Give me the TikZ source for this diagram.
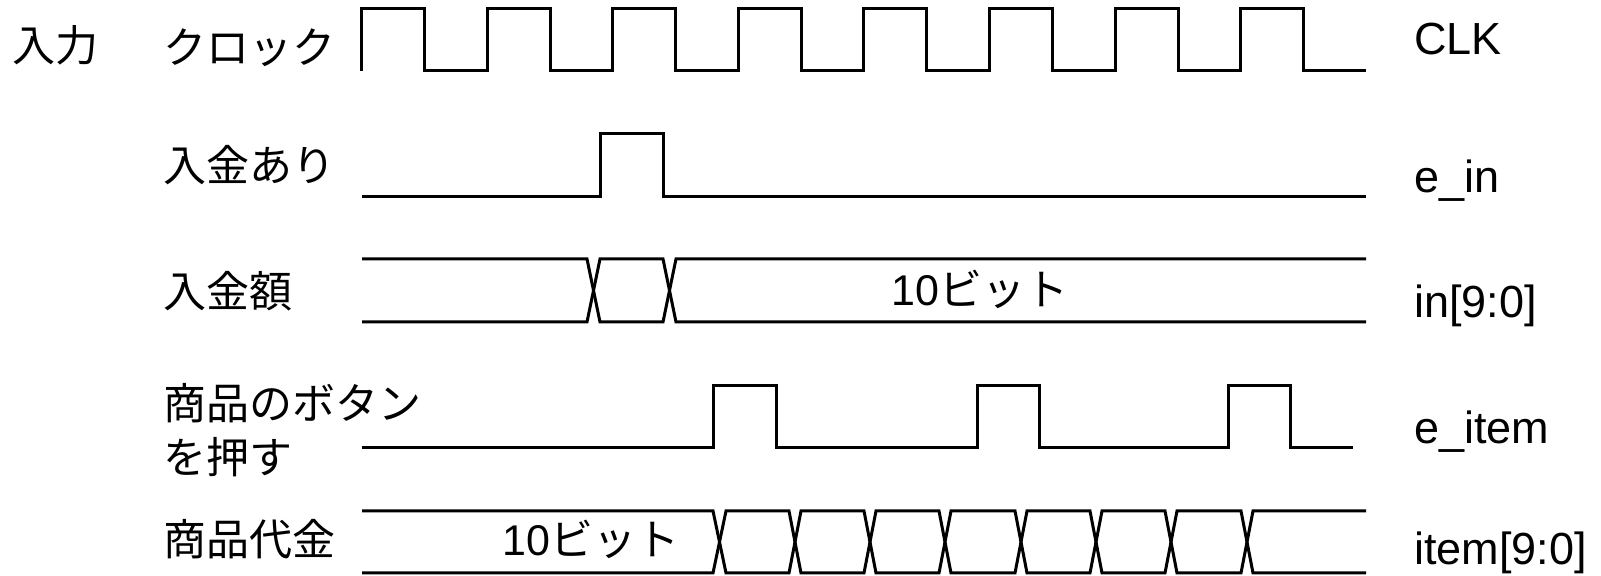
\documentclass[tikz,border=0pt]{standalone}
\usepackage{fontspec}
\setmainfont{Liberation Sans}
\newfontfamily\jpfont{Noto Sans CJK JP}
\usepackage{tikz}

\tikzset{
  wave/.style={line width=1.5pt},
  jplabel/.style={font={\jpfont\fontsize{21.5}{27}\selectfont}, inner sep=0pt},
  signame/.style={font={\fontsize{22.5}{27}\selectfont}, inner sep=0pt, anchor=base west},
}

\begin{document}
\begin{tikzpicture}[x=0.5pt, y=-0.5pt]
        \useasboundingbox (0,0) rectangle (1601,576);
        %%Clock
        \draw[wave]
        (361,71) to (361,9) to (424,9) to (424,71) to (487,71) to (487,9) to (550,9) to (550,71)
        to (612,71) to (612,9) to (675,9) to (675,71) to (738,71) to (738,9) to (801,9) to (801,71)
        to (863,71) to (863,9) to (926,9) to (926,71) to (989,71) to (989,9) to (1052,9) to (1052,71)
        to (1115,71) to (1115,9) to (1178,9) to (1178,71) to (1240,71) to (1240,9) to (1303,9) to (1303,71)
        to (1366,71);
        %%Deposit flag
        \draw[wave] (362,197) to (600,197) to (600,134) to (663,134) to (663,197) to (1366,197);
        %%Deposit amount
        \draw[wave] (362,259) to (587,259) to (600,322) to (663,322) to (676,259) to (1366,259);
        \draw[wave] (362,322) to (587,322) to (600,259) to (663,259) to (676,322) to (1366,322);
        %%Item button
        \draw[wave] (362,448) to (713,448) to (713,386) to (776,386) to (776,448) to (977,448) to (977,386)
        to (1039,386) to (1039,448) to (1228,448) to (1228,386) to (1290,386) to (1290,448) to (1353,448);
        %%Item price
        \draw[wave] (362,511) to (713,511) to (726,573) to (789,573) to (801,511) to (864,511) to (876,573)
        to (939,573) to (951,511) to (1015,511) to (1027,573) to (1090,573) to (1102,511) to (1165,511)
        to (1177,573) to (1241,573) to (1253,511) to (1366,511);
        \draw[wave] (362,573) to (713,573) to (726,511) to (789,511) to (801,573) to (864,573) to (876,511)
        to (939,511) to (951,573) to (1015,573) to (1027,511) to (1090,511) to (1102,573) to (1165,573)
        to (1177,511) to (1241,511) to (1253,573) to (1366,573);
        %%Left labels
        \node[jplabel, anchor=west] (input) at (12,45) {入力};
        \node[jplabel, anchor=west] (clock) at (163,48) {クロック};
        \node[jplabel, anchor=west] (deposit) at (163,165) {入金あり};
        \node[jplabel, anchor=west] (amount) at (163,291) {入金額};
        \node[jplabel, anchor=west, align=left] (button) at (163,430) {商品のボタン\\を押す};
        \node[jplabel, anchor=west] (price) at (163,539) {商品代金};
        %%Bus widths
        \node[jplabel] (inbits) at (980,289) {{\rmfamily 10}ビット};
        \node[jplabel] (itembits) at (591,539) {{\rmfamily 10}ビット};
        %%Signal names
        \node[signame] (clk) at (1414,55) {CLK};
        \node[signame] (ein) at (1414,193) {e\_in};
        \node[signame] (inbus) at (1414,318) {in[9:0]};
        \node[signame] (eitem) at (1414,444) {e\_item};
        \node[signame] (itembus) at (1414,565) {item[9:0]};
\end{tikzpicture}
\end{document}
